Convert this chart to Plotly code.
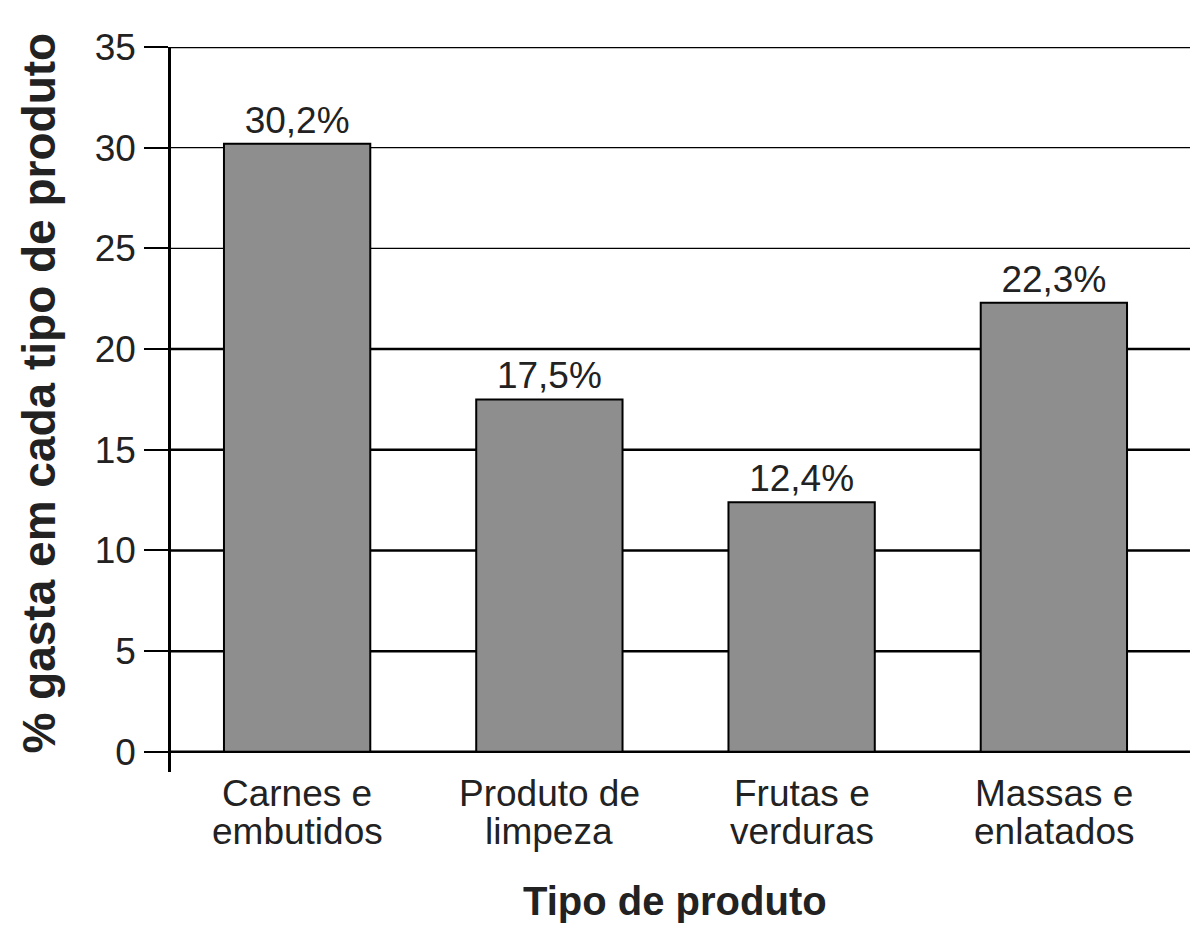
import plotly.graph_objects as go

categorias = ["Carnes e<br>embutidos", "Produto de<br>limpeza", "Frutas e<br>verduras", "Massas e<br>enlatados"]
percentuais = [30.2, 17.5, 12.4, 22.3]
ticks_y = [0, 5, 10, 15, 20, 25, 30, 35]

fonte = "Liberation Sans, Arial, sans-serif"
cor_texto = "#222222"

fig = go.Figure(go.Bar(
    x=categorias, y=percentuais,
    marker=dict(color="#8e8e8e", line=dict(color="black", width=2)),
    texttemplate="%{y:.1f}%", textposition="outside",
    textfont=dict(size=37, color=cor_texto, family=fonte),
    constraintext="none", cliponaxis=False,
))

# linhas de grade (algumas mais finas, como no original)
larguras = [2.5, 2.5, 2.5, 2.5, 2.5, 1.3, 1.3, 2.5]
for v, w in zip(ticks_y, larguras):
    fig.add_shape(type="line", xref="paper", yref="y", x0=0, x1=1.0099, y0=v, y1=v,
                  line=dict(color="black", width=w), layer="below")

# rótulos das categorias em duas linhas
for c in categorias:
    l1, l2 = c.split("<br>")
    fig.add_annotation(x=c, y=-0.029, yref="paper", text=l1, showarrow=False,
                       yanchor="middle", font=dict(size=37, color=cor_texto, family=fonte))
    fig.add_annotation(x=c, y=-0.0814, yref="paper", text=l2, showarrow=False,
                       yanchor="middle", font=dict(size=37, color=cor_texto, family=fonte))

fig.add_annotation(x=0.4995, y=-0.178, xref="paper", yref="paper", text="<b>Tipo de produto</b>",
                   showarrow=False, yanchor="middle", font=dict(size=40, color=cor_texto, family=fonte))
fig.add_annotation(x=-0.1308, y=0.522, xref="paper", yref="paper", text="<b>% gasta em cada tipo de produto</b>",
                   showarrow=False, textangle=-90, xanchor="center", yanchor="middle",
                   font=dict(size=46, color=cor_texto, family=fonte))

# a página tem margem de 8px, por isso o tamanho e as margens descontam isso
fig.update_layout(
    width=1192, height=921,
    margin=dict(l=163, r=20, t=39, b=157),
    plot_bgcolor="white", paper_bgcolor="white",
    separators=",.",
    bargap=0.42,
    showlegend=False,
    font=dict(family=fonte, color=cor_texto),
    xaxis=dict(range=[-0.5, 3.5], showticklabels=False, showline=False, showgrid=False,
               zeroline=False, ticks=""),
    yaxis=dict(range=[-1, 35], tickvals=ticks_y, ticks="outside", ticklen=24, tickwidth=2,
               tickcolor="black", showline=True, linewidth=2.5, linecolor="black",
               showgrid=False, zeroline=False, ticklabelstandoff=1,
               tickfont=dict(size=37, color=cor_texto, family=fonte)),
)

fig.write_html("out.html")
